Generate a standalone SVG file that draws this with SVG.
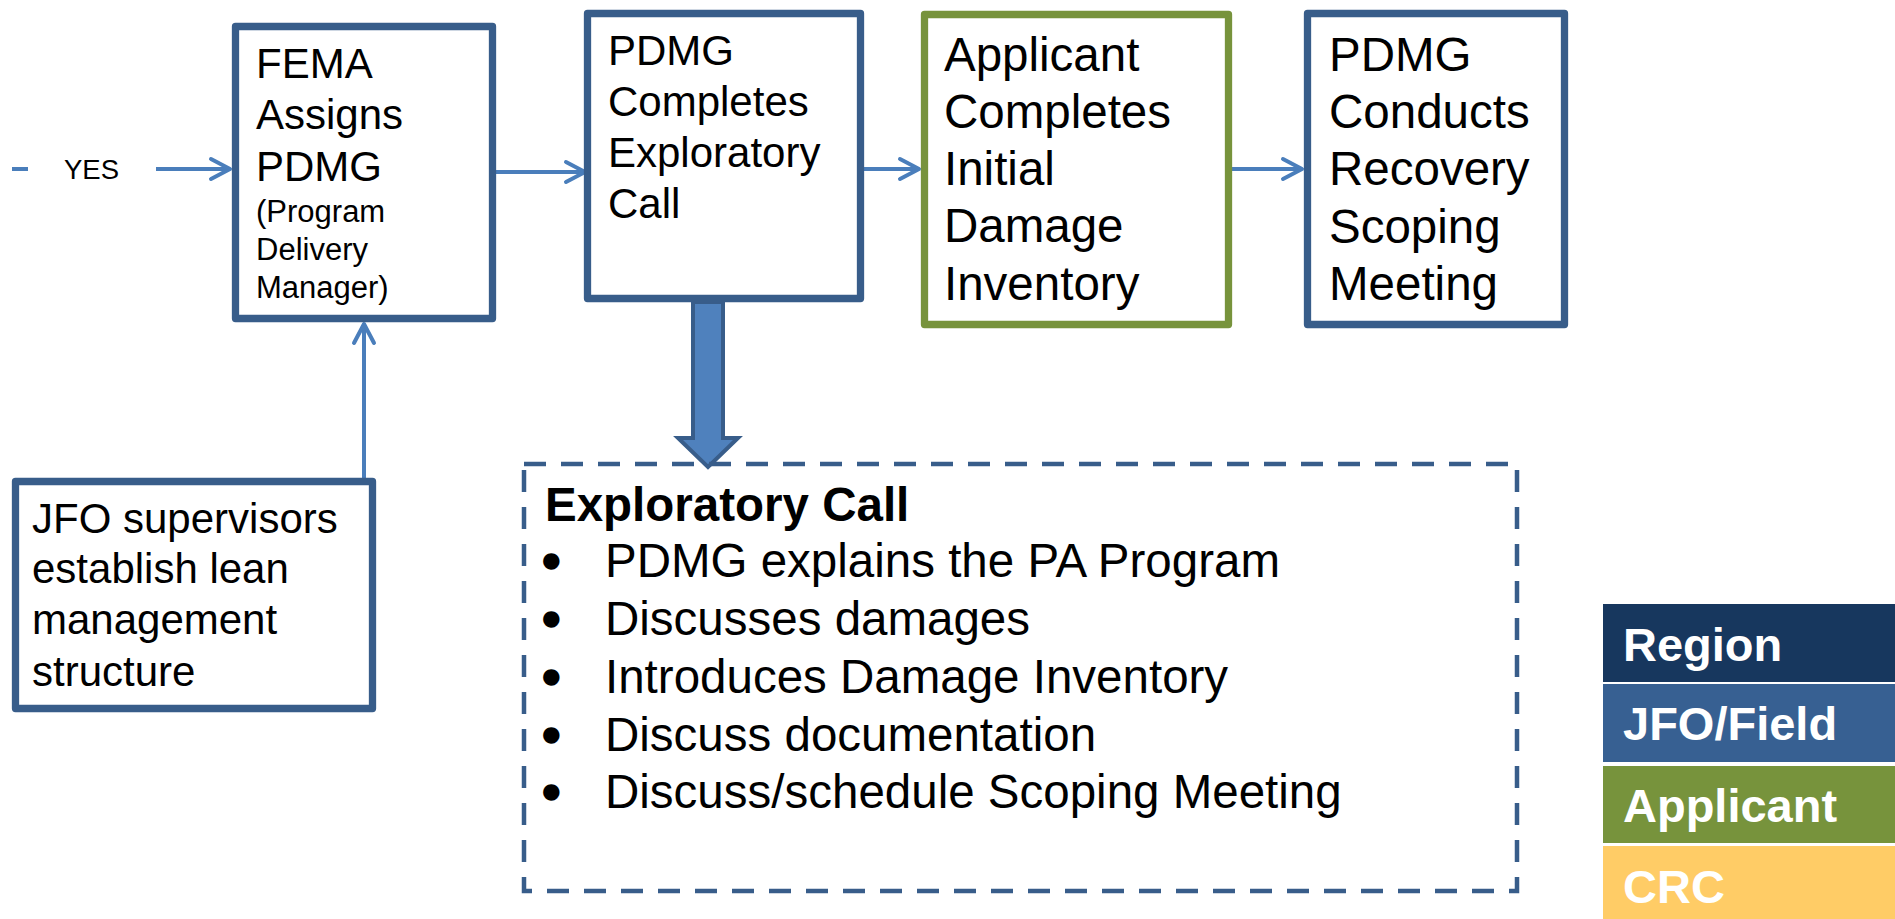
<svg xmlns="http://www.w3.org/2000/svg" width="1895" height="919" viewBox="0 0 1895 919">
  <defs>
    <style>
      .box { fill: #ffffff; stroke: #385D8A; stroke-width: 7.3; stroke-linejoin: round; }
      .green { stroke: #77933C; }
      .t { font-family: "Liberation Sans", Arial, sans-serif; fill: #000000; }
      .bul { stroke: #000000; stroke-width: 3.5; stroke-linejoin: round; }
      .conn { stroke: #4A7EBB; stroke-width: 4; fill: none; }
      .leg { font-family: "Liberation Sans", Arial, sans-serif; font-weight: bold; font-size: 47px; fill: #ffffff; }
    </style>
    <marker id="chev" markerUnits="userSpaceOnUse" viewBox="-24 -14 28 28" markerWidth="28" markerHeight="28" refX="0" refY="0" orient="auto">
      <path d="M-19,-10 L0,0 L-19,10" fill="none" stroke="#4A7EBB" stroke-width="4" stroke-linecap="round" stroke-linejoin="round"/>
    </marker>
  </defs>
  <rect width="1895" height="919" fill="#ffffff"/>

  <g id="connectors">
    <line class="conn" x1="12" y1="169" x2="28" y2="169"/>
    <line class="conn" x1="156" y1="169" x2="230" y2="169" marker-end="url(#chev)"/>
    <line class="conn" x1="496" y1="172" x2="585" y2="172" marker-end="url(#chev)"/>
    <line class="conn" x1="864" y1="169" x2="919" y2="169" marker-end="url(#chev)"/>
    <line class="conn" x1="1232" y1="169" x2="1302" y2="169" marker-end="url(#chev)"/>
    <line class="conn" x1="364" y1="478" x2="364" y2="324" marker-end="url(#chev)"/>
    <path d="M693,302 L723,302 L723,438 L738,438 L708,467 L678,438 L693,438 Z" fill="#4F81BD" stroke="#385D8A" stroke-width="4" stroke-linejoin="miter"/>
  </g>

  <g id="yes-label">
    <text class="t" x="64" y="179" font-size="27.5">YES</text>
  </g>

  <g id="fema-assigns">
    <rect class="box" x="235.5" y="26.5" width="257" height="292"/>
    <text class="t" font-size="42"><tspan x="256" y="78">FEMA</tspan><tspan x="256" y="129">Assigns</tspan><tspan x="256" y="181">PDMG</tspan></text>
    <text class="t" font-size="31"><tspan x="256" y="222">(Program</tspan><tspan x="256" y="260">Delivery</tspan><tspan x="256" y="298">Manager)</tspan></text>
  </g>

  <g id="pdmg-exploratory">
    <rect class="box" x="587.5" y="13.5" width="273" height="285"/>
    <text class="t" font-size="42"><tspan x="608" y="65">PDMG</tspan><tspan x="608" y="116">Completes</tspan><tspan x="608" y="167">Exploratory</tspan><tspan x="608" y="218">Call</tspan></text>
  </g>

  <g id="applicant-inventory">
    <rect class="box green" x="924.5" y="14.5" width="304" height="310"/>
    <text class="t" font-size="47.5"><tspan x="944" y="71">Applicant</tspan><tspan x="944" y="128">Completes</tspan><tspan x="944" y="185">Initial</tspan><tspan x="944" y="242">Damage</tspan><tspan x="944" y="300">Inventory</tspan></text>
  </g>

  <g id="pdmg-scoping">
    <rect class="box" x="1307.5" y="13.5" width="257" height="311"/>
    <text class="t" font-size="47.5"><tspan x="1329" y="71">PDMG</tspan><tspan x="1329" y="128">Conducts</tspan><tspan x="1329" y="185">Recovery</tspan><tspan x="1329" y="243">Scoping</tspan><tspan x="1329" y="300">Meeting</tspan></text>
  </g>

  <g id="jfo-supervisors">
    <rect class="box" x="15.5" y="481.5" width="357" height="227"/>
    <text class="t" font-size="42"><tspan x="32" y="533">JFO supervisors</tspan><tspan x="32" y="583">establish lean</tspan><tspan x="32" y="634">management</tspan><tspan x="32" y="686">structure</tspan></text>
  </g>

  <g id="exploratory-call-details">
    <rect x="524" y="464" width="993" height="427" fill="none" stroke="#385D8A" stroke-width="4.5" stroke-dasharray="22 15"/>
    <text class="t" x="545" y="521" font-size="47.5" font-weight="bold">Exploratory Call</text>
    <text class="t bul" font-size="47.5"><tspan x="543" y="577">•</tspan><tspan x="543" y="635">•</tspan><tspan x="543" y="693">•</tspan><tspan x="543" y="751">•</tspan><tspan x="543" y="808">•</tspan></text>
    <text class="t" font-size="47.5"><tspan x="605" y="577">PDMG explains the PA Program</tspan><tspan x="605" y="635">Discusses damages</tspan><tspan x="605" y="693">Introduces Damage Inventory</tspan><tspan x="605" y="751">Discuss documentation</tspan><tspan x="605" y="808">Discuss/schedule Scoping Meeting</tspan></text>
  </g>

  <g id="legend">
    <rect x="1603" y="604" width="292" height="78" fill="#17375E"/>
    <text class="leg" x="1623" y="661">Region</text>
    <rect x="1603" y="684" width="292" height="78" fill="#376092"/>
    <text class="leg" x="1623" y="740">JFO/Field</text>
    <rect x="1603" y="766" width="292" height="77" fill="#77933C"/>
    <text class="leg" x="1623" y="822">Applicant</text>
    <rect x="1603" y="846" width="292" height="73" fill="#FFCC66"/>
    <text class="leg" x="1623" y="903">CRC</text>
  </g>
</svg>
